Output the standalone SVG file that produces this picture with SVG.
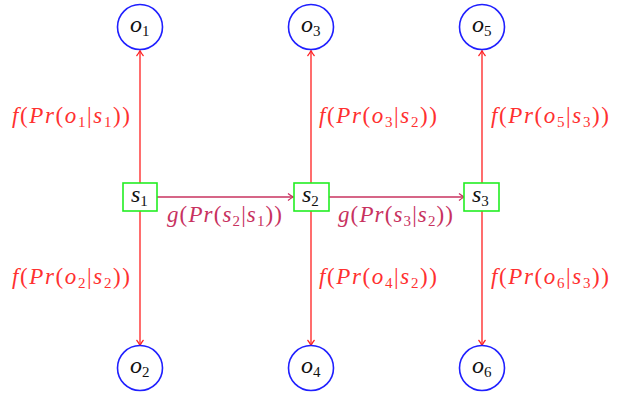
<svg xmlns="http://www.w3.org/2000/svg" width="622" height="394" viewBox="0 0 622 394">
<style>
.obs{fill:#fff;stroke:#1f1fff;stroke-width:1.6}
.st{fill:#fff;stroke:#22ee22;stroke-width:1.6}
.lbl{font-style:italic;font-size:24px;fill:#111}
.sub{font-size:15px;font-style:normal}
.v{stroke:#ff2020;stroke-width:1.3;fill:none}
.h{stroke:#c8325f;stroke-width:1.5;fill:none}
.fl{font-style:italic;font-size:23px;fill:#ff3030}
.gl{font-style:italic;font-size:23px;fill:#c8325f}
.n{font-style:normal}
</style>
<defs>
<marker id="ar" markerWidth="10" markerHeight="10" refX="7" refY="5" orient="auto" markerUnits="userSpaceOnUse">
<path d="M2,1.5 Q5,4 7.5,5 Q5,6 2,8.5" fill="none" stroke="#ff2020" stroke-width="1.2"/>
</marker>
<marker id="ah" markerWidth="10" markerHeight="10" refX="7" refY="5" orient="auto" markerUnits="userSpaceOnUse">
<path d="M2,1.5 Q5,4 7.5,5 Q5,6 2,8.5" fill="none" stroke="#c8325f" stroke-width="1.3"/>
</marker>
</defs>
<g font-family="'Liberation Serif', 'Times New Roman', serif">
<g id="connectors">
<line class="v" x1="140" y1="183" x2="140" y2="51" marker-end="url(#ar)"/>
<line class="v" x1="140" y1="211" x2="140" y2="345" marker-end="url(#ar)"/>
<line class="v" x1="311" y1="183" x2="311" y2="51" marker-end="url(#ar)"/>
<line class="v" x1="311" y1="211" x2="311" y2="345" marker-end="url(#ar)"/>
<line class="v" x1="482" y1="183" x2="482" y2="51" marker-end="url(#ar)"/>
<line class="v" x1="482" y1="211" x2="482" y2="345" marker-end="url(#ar)"/>
<line class="h" x1="157" y1="197" x2="293" y2="197" marker-end="url(#ah)"/>
<line class="h" x1="329" y1="197" x2="464" y2="197" marker-end="url(#ah)"/>
<text class="fl" x="12" y="123" textLength="118" lengthAdjust="spacing">f<tspan class="n">(</tspan>Pr<tspan class="n">(</tspan>o<tspan class="sub" dy="4">1</tspan><tspan class="n" dy="-4">|</tspan>s<tspan class="sub" dy="4">1</tspan><tspan class="n" dy="-4">))</tspan></text>
<text class="fl" x="12" y="284" textLength="118" lengthAdjust="spacing">f<tspan class="n">(</tspan>Pr<tspan class="n">(</tspan>o<tspan class="sub" dy="4">2</tspan><tspan class="n" dy="-4">|</tspan>s<tspan class="sub" dy="4">2</tspan><tspan class="n" dy="-4">))</tspan></text>
<text class="fl" x="319" y="123" textLength="118" lengthAdjust="spacing">f<tspan class="n">(</tspan>Pr<tspan class="n">(</tspan>o<tspan class="sub" dy="4">3</tspan><tspan class="n" dy="-4">|</tspan>s<tspan class="sub" dy="4">2</tspan><tspan class="n" dy="-4">))</tspan></text>
<text class="fl" x="319" y="284" textLength="118" lengthAdjust="spacing">f<tspan class="n">(</tspan>Pr<tspan class="n">(</tspan>o<tspan class="sub" dy="4">4</tspan><tspan class="n" dy="-4">|</tspan>s<tspan class="sub" dy="4">2</tspan><tspan class="n" dy="-4">))</tspan></text>
<text class="fl" x="491" y="123" textLength="118" lengthAdjust="spacing">f<tspan class="n">(</tspan>Pr<tspan class="n">(</tspan>o<tspan class="sub" dy="4">5</tspan><tspan class="n" dy="-4">|</tspan>s<tspan class="sub" dy="4">3</tspan><tspan class="n" dy="-4">))</tspan></text>
<text class="fl" x="491" y="284" textLength="118" lengthAdjust="spacing">f<tspan class="n">(</tspan>Pr<tspan class="n">(</tspan>o<tspan class="sub" dy="4">6</tspan><tspan class="n" dy="-4">|</tspan>s<tspan class="sub" dy="4">3</tspan><tspan class="n" dy="-4">))</tspan></text>
<text class="gl" x="167" y="222" textLength="115" lengthAdjust="spacing">g<tspan class="n">(</tspan>Pr<tspan class="n">(</tspan>s<tspan class="sub" dy="4">2</tspan><tspan class="n" dy="-4">|</tspan>s<tspan class="sub" dy="4">1</tspan><tspan class="n" dy="-4">))</tspan></text>
<text class="gl" x="338" y="222" textLength="115" lengthAdjust="spacing">g<tspan class="n">(</tspan>Pr<tspan class="n">(</tspan>s<tspan class="sub" dy="4">3</tspan><tspan class="n" dy="-4">|</tspan>s<tspan class="sub" dy="4">2</tspan><tspan class="n" dy="-4">))</tspan></text>
</g>
<g id="o1"><circle class="obs" cx="140" cy="27" r="22.5"/><text class="lbl" x="130" y="32">o<tspan class="sub" dy="4">1</tspan></text></g>
<g id="o3"><circle class="obs" cx="311" cy="27" r="22.5"/><text class="lbl" x="301" y="32">o<tspan class="sub" dy="4">3</tspan></text></g>
<g id="o5"><circle class="obs" cx="482" cy="27" r="22.5"/><text class="lbl" x="472" y="32">o<tspan class="sub" dy="4">5</tspan></text></g>
<g id="o2"><circle class="obs" cx="140" cy="368" r="22.5"/><text class="lbl" x="130" y="373">o<tspan class="sub" dy="4">2</tspan></text></g>
<g id="o4"><circle class="obs" cx="311" cy="368" r="22.5"/><text class="lbl" x="301" y="373">o<tspan class="sub" dy="4">4</tspan></text></g>
<g id="o6"><circle class="obs" cx="482" cy="368" r="22.5"/><text class="lbl" x="472" y="373">o<tspan class="sub" dy="4">6</tspan></text></g>
<g id="s1"><rect class="st" x="123" y="183" width="34" height="28"/><text class="lbl" x="131" y="202">s<tspan class="sub" dy="4">1</tspan></text></g>
<g id="s2"><rect class="st" x="294" y="183" width="35" height="28"/><text class="lbl" x="302" y="202">s<tspan class="sub" dy="4">2</tspan></text></g>
<g id="s3"><rect class="st" x="464" y="183" width="35" height="28"/><text class="lbl" x="472" y="202">s<tspan class="sub" dy="4">3</tspan></text></g>
</g>
</svg>
